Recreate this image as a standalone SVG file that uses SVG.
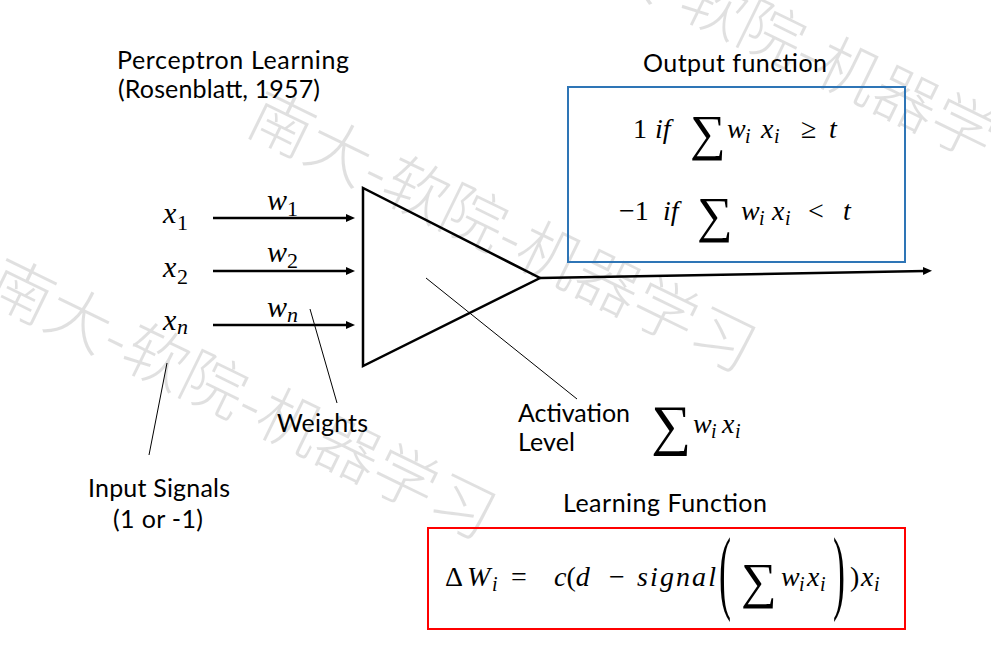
<svg xmlns="http://www.w3.org/2000/svg" width="991" height="652" viewBox="0 0 991 652">
<style>
.t{font-family:Lato,'Open Sans',sans-serif;font-size:25px;fill:#000}
.m{font-family:'Liberation Serif','DejaVu Serif',serif;font-style:italic;fill:#000}
.u{font-style:normal}
.sig{font-family:'Liberation Serif','DejaVu Serif',serif;font-style:normal;fill:#000}
.wm{font-family:'Noto Sans CJK SC',sans-serif;font-size:64px;font-weight:300;fill:#000;fill-opacity:0.12}
.thick{stroke:#000;stroke-width:2.5;fill:none}
.lead{stroke:#000;stroke-width:1;fill:none}
</style>
<defs>
<marker id="arr" viewBox="0 0 10 10" markerUnits="userSpaceOnUse" markerWidth="10" markerHeight="10" refX="2" refY="5" orient="auto">
<path d="M0,1 L9,5 L0,9 z" fill="#000"/>
</marker>
</defs>
<rect width="991" height="652" fill="#fff"/>
<g id="watermark">
<text class="wm" transform="translate(243,131) rotate(26)">南大-软院-机器学习</text>
<text class="wm" transform="translate(-17,298) rotate(26)">南大-软院-机器学习</text>
<text class="wm" transform="translate(541,-53) rotate(26)">南大-软院-机器学习</text>
</g>
<g id="title">
<text class="t" x="117" y="69" textLength="232">Perceptron Learning</text>
<text class="t" x="118" y="98" textLength="202">(Rosenblatt, 1957)</text>
</g>
<g id="connectors">
<line class="thick" x1="213" y1="218" x2="348" y2="218" marker-end="url(#arr)"/>
<line class="thick" x1="213" y1="271" x2="348" y2="271" marker-end="url(#arr)"/>
<line class="thick" x1="213" y1="325" x2="348" y2="325" marker-end="url(#arr)"/>
<line class="thick" x1="540" y1="278" x2="925" y2="271" marker-end="url(#arr)"/>
<line class="lead" x1="426" y1="278" x2="577" y2="399"/>
<line class="lead" x1="310" y1="309" x2="337" y2="403"/>
<line class="lead" x1="167" y1="363" x2="149" y2="455"/>
</g>
<g id="input-x1">
<text class="m" font-size="30" x="163" y="223">x</text>
<text class="m u" font-size="22" x="177" y="230">1</text>
</g>
<g id="input-x2">
<text class="m" font-size="30" x="163" y="277">x</text>
<text class="m u" font-size="22" x="177" y="284">2</text>
</g>
<g id="input-xn">
<text class="m" font-size="30" x="163" y="330">x</text>
<text class="m" font-size="22" x="177" y="334">n</text>
</g>
<g id="weight-w1">
<text class="m" font-size="30" x="267" y="210">w</text>
<text class="m u" font-size="22" x="287" y="216">1</text>
</g>
<g id="weight-w2">
<text class="m" font-size="30" x="267" y="262">w</text>
<text class="m u" font-size="22" x="287" y="268">2</text>
</g>
<g id="weight-wn">
<text class="m" font-size="30" x="267" y="317">w</text>
<text class="m" font-size="22" x="287" y="322">n</text>
</g>
<g id="neuron">
<polygon class="thick" points="363,188 363,366 540,278" stroke-linejoin="miter"/>
</g>
<g id="output-function">
<text class="t" x="643" y="72" textLength="184">Output function</text>
<rect x="568" y="87" width="337" height="175" fill="none" stroke="#2E75B6" stroke-width="2"/>
<text class="m u" font-size="28" x="633" y="138">1</text>
<text class="m" font-size="28" x="655" y="138">if</text>
<text class="sig" font-size="50" x="690" y="150">∑</text>
<text class="m" font-size="28" x="727" y="138">w</text>
<text class="m" font-size="20" x="745" y="143">i</text>
<text class="m" font-size="28" x="761" y="138">x</text>
<text class="m" font-size="20" x="774" y="143">i</text>
<text class="m u" font-size="28" x="801" y="138">≥</text>
<text class="m" font-size="28" x="829" y="138">t</text>
<text class="m u" font-size="28" x="619" y="220">−1</text>
<text class="m" font-size="28" x="663" y="220">if</text>
<text class="sig" font-size="50" x="697" y="232">∑</text>
<text class="m" font-size="28" x="741" y="220">w</text>
<text class="m" font-size="20" x="759" y="225">i</text>
<text class="m" font-size="28" x="772" y="220">x</text>
<text class="m" font-size="20" x="785" y="225">i</text>
<text class="m u" font-size="28" x="808" y="220">&lt;</text>
<text class="m" font-size="28" x="843" y="220">t</text>
</g>
<g id="activation">
<text class="t" x="518" y="422" textLength="112">Activation</text>
<text class="t" x="518" y="451" textLength="57">Level</text>
<text class="sig" font-size="56" x="651" y="444">∑</text>
<text class="m" font-size="28" x="693" y="433">w</text>
<text class="m" font-size="20" x="711" y="438">i</text>
<text class="m" font-size="28" x="722" y="433">x</text>
<text class="m" font-size="20" x="735" y="438">i</text>
</g>
<g id="weights-label">
<text class="t" x="277" y="432" textLength="91">Weights</text>
</g>
<g id="input-signals-label">
<text class="t" x="88" y="497" textLength="142">Input Signals</text>
<text class="t" x="113" y="528" textLength="90">(1 or -1)</text>
</g>
<g id="learning-function">
<text class="t" x="563" y="512" textLength="204">Learning Function</text>
<rect x="428" y="528" width="477" height="101" fill="none" stroke="#FF0000" stroke-width="2"/>
<text class="m u" font-size="28" x="445" y="586">Δ</text>
<text class="m" font-size="28" x="467" y="586">W</text>
<text class="m" font-size="20" x="492" y="591">i</text>
<text class="m u" font-size="28" x="511" y="586">=</text>
<text class="m" font-size="28" x="554" y="586">c<tspan class="u">(</tspan>d</text>
<text class="m u" font-size="28" x="609" y="586">−</text>
<text class="m" font-size="28" x="637" y="586" textLength="79">signal</text>
<text class="m u" font-size="36" transform="translate(719,0) scale(1,2.6)" x="0" y="231.4">(</text>
<text class="sig" font-size="50" x="741" y="598">∑</text>
<text class="m" font-size="28" x="781" y="586">w</text>
<text class="m" font-size="20" x="799" y="591">i</text>
<text class="m" font-size="28" x="807" y="586">x</text>
<text class="m" font-size="20" x="820" y="591">i</text>
<text class="m u" font-size="36" transform="translate(833,0) scale(1,2.6)" x="0" y="231.4">)</text>
<text class="m u" font-size="28" x="850" y="586">)</text>
<text class="m" font-size="28" x="861" y="586">x</text>
<text class="m" font-size="20" x="874" y="591">i</text>
</g>
</svg>
